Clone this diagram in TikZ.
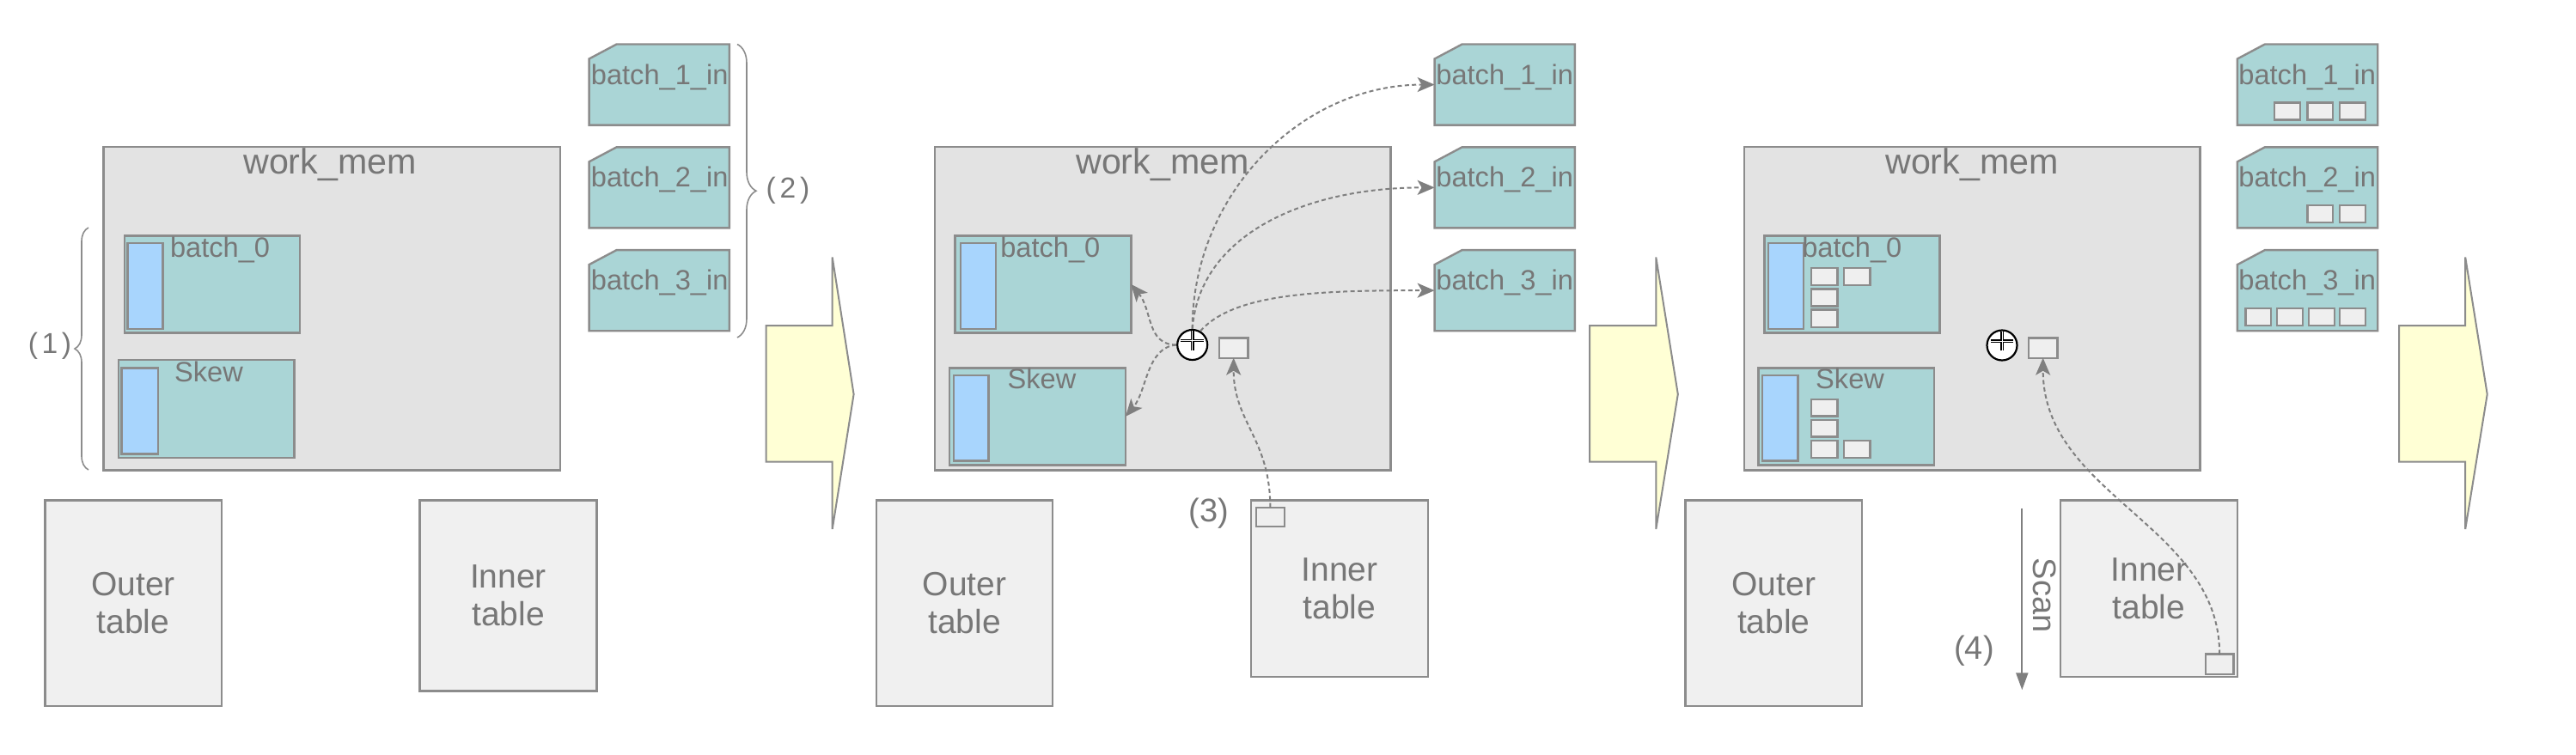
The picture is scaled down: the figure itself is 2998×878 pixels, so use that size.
\documentclass[tikz,border=0pt]{standalone}
\usepackage{fontspec}
\setmainfont{Liberation Sans}
\usetikzlibrary{arrows.meta,fit,decorations.pathreplacing}
\definecolor{memfill}{HTML}{E3E3E3}
\definecolor{tabfill}{HTML}{F0F0F0}
\definecolor{batfill}{HTML}{AAD5D6}
\definecolor{bluefill}{HTML}{A8D5FD}
\definecolor{sqfill}{HTML}{EFEFEF}
\definecolor{edgegray}{HTML}{8C8C8C}
\definecolor{txtgray}{HTML}{777777}
\definecolor{arrowgray}{HTML}{7F7F7F}
\definecolor{yel}{HTML}{FFFFD5}
\newcommand\rbox[6]{\coordinate (#1-a) at (#2,#3);\coordinate (#1-b) at (#4,#5);\node[fit=(#1-a)(#1-b),inner sep=0pt,outer sep=0pt,#6] (#1) {};}
\newcommand\inbox[4]{% name, x1, y1, unused ; box 163 wide, 94 tall
  \rbox{#1}{#2}{#3}{#2+163.3}{#3+94.1}{}
  \draw[inshape] (#1.south west) -- (#1.south east) -- (#1.north east) -- ([xshift=16pt]#1.north west) -- ([yshift=-8.5pt]#1.north west) -- cycle;}
\begin{document}
\begin{tikzpicture}[x=0.5pt,y=-0.5pt,
  mem/.style={draw=edgegray, fill=memfill, line width=1.2pt},
  tab/.style={draw=edgegray, fill=tabfill, line width=1.2pt},
  bat/.style={draw=edgegray, fill=batfill, line width=1.2pt},
  bar/.style={draw=edgegray, fill=bluefill, line width=1.2pt},
  sq/.style={draw=edgegray, fill=sqfill, line width=1.2pt},
  inshape/.style={draw=edgegray, fill=batfill, line width=1.2pt},
  lbl/.style={text=txtgray, inner sep=0pt, font=\fontsize{16.3}{19}\selectfont},
  title/.style={text=txtgray, inner sep=0pt, font=\fontsize{20.6}{24}\selectfont},
  tbl/.style={text=txtgray, inner sep=0pt, align=center, font=\fontsize{19.5}{22}\selectfont},
  num/.style={text=txtgray, inner sep=0pt, font=\fontsize{19}{22}\selectfont},
  paren/.style={text=txtgray, inner sep=0pt, font=\fontsize{16.8}{20}\selectfont},
  flow/.style={draw=arrowgray, line width=1pt, dash pattern=on 2.5pt off 1.7pt, -{Stealth[length=10pt,width=8.5pt,inset=2.5pt]}},
  scanline/.style={draw=arrowgray, line width=1pt, -{Triangle[length=10pt,width=7pt]}},
  bigarrow/.style={draw=edgegray, fill=yel, line width=1pt},
  brc/.style={draw=edgegray, line width=0.8pt, decorate},
  opnode/.style={circle, draw=black, fill=white, line width=1.1pt, minimum size=17.5pt, inner sep=0pt},
  plusline/.style={draw=black, line width=0.7pt, double=white, double distance=0.5pt}
]
\useasboundingbox (0,0) rectangle (2998,878);

% ================= Panel 1 =================
\rbox{mem1}{120.5}{170.8}{651.8}{547.6}{mem}
\node[title, anchor=base] (mem1-t) at (384,202.7) {work\_mem};
\rbox{b01}{144.8}{274.4}{348.9}{387.5}{bat}
\rbox{bar01}{148.6}{282.8}{189.4}{383}{bar}
\node[lbl, anchor=base west] (b01-t) at (197.7,299.5) {batch\_0};
\rbox{sk1}{137.8}{418.8}{342.5}{533}{bat}
\rbox{barsk1}{141.6}{428.3}{183.7}{528.5}{bar}
\node[lbl, anchor=base west] (sk1-t) at (202.8,444) {Skew};

\inbox{b1in1}{685.6}{51.5}{}
\node[lbl, anchor=base west] (b1in1-t) at (687.5,98) {batch\_1\_in};
\inbox{b2in1}{685.6}{171.3}{}
\node[lbl, anchor=base west] (b2in1-t) at (687.5,217.8) {batch\_2\_in};
\inbox{b3in1}{685.6}{291.1}{}
\node[lbl, anchor=base west] (b3in1-t) at (687.5,337.6) {batch\_3\_in};

\draw[brc, decoration={brace, amplitude=8pt}] (103,547) -- (103,265);
\node[paren] (one) at (58,403) {(\kern2.3pt1\kern2.3pt)};
\draw[brc, decoration={brace, amplitude=11pt}] (858,51.5) -- (858,393);
\node[paren] (two) at (917,221.7) {(\kern2.4pt2\kern2.4pt)};

\draw[bigarrow] (891.6,379) -- (968.7,379) -- (968.7,299.5) -- (993.6,459) -- (968.7,616) -- (968.7,537.5) -- (891.6,537.5) -- cycle;

\rbox{outer1}{52.3}{582.3}{257.7}{822}{tab}
\node[tbl] (outer1-t) at (outer1.center) {Outer\\table};
\rbox{inner1}{488.5}{582.3}{694.5}{804.6}{tab}
\node[tbl] (inner1-t) at (inner1.center) {Inner\\table};

% ================= Panel 2 =================
\rbox{mem2}{1088}{170.8}{1618.6}{547.6}{mem}
\node[title, anchor=base] (mem2-t) at (1353,202.7) {work\_mem};
\rbox{b02}{1111.6}{274.4}{1316.3}{387.5}{bat}
\rbox{bar02}{1118}{282.8}{1158.8}{383}{bar}
\node[lbl, anchor=base west] (b02-t) at (1163.9,299.5) {batch\_0};
\rbox{sk2}{1105.2}{428.3}{1310}{541.4}{bat}
\rbox{barsk2}{1109.7}{436.7}{1150.5}{536.4}{bar}
\node[lbl, anchor=base west] (sk2-t) at (1172.2,452) {Skew};

\node[opnode] (op2) at (1387.7,401.5) {};
\draw[plusline] ([yshift=2.5pt]op2.center) +(-6.7pt,0pt) -- +(6.7pt,0pt) +(0pt,-5.7pt) -- +(0pt,5.7pt);
\rbox{sq2}{1419}{393.5}{1452.3}{416.7}{sq}

\inbox{b1in2}{1669.6}{51.5}{}
\node[lbl, anchor=base west] (b1in2-t) at (1671,98) {batch\_1\_in};
\inbox{b2in2}{1669.6}{171.3}{}
\node[lbl, anchor=base west] (b2in2-t) at (1671,217.8) {batch\_2\_in};
\inbox{b3in2}{1669.6}{291.1}{}
\node[lbl, anchor=base west] (b3in2-t) at (1671,337.6) {batch\_3\_in};

\draw[bigarrow] (1850,379) -- (1927.3,379) -- (1927.3,299.5) -- (1952.8,459) -- (1927.3,616) -- (1927.3,537.5) -- (1850,537.5) -- cycle;

\rbox{outer2}{1019.8}{582.3}{1225.1}{822}{tab}
\node[tbl] (outer2-t) at (outer2.center) {Outer\\table};
\rbox{inner2}{1456}{582.3}{1662}{787.8}{tab}
\node[tbl] (inner2-t) at (inner2.center) {Inner\\table};
\rbox{in2}{1461.7}{590.7}{1494.9}{613.1}{sq}
\node[num] (three) at (1406.6,598) {(3)};

\draw[flow] (op2.north) .. controls +(0,-156) and +(-156,0) .. (b1in2.west);
\draw[flow] (op2.north) .. controls +(8,-110) and +(-150,0) .. (b2in2.west);
\draw[flow] (op2.60) .. controls +(40,-45) and +(-130,0) .. (b3in2.west);
\draw[flow] (op2.west) .. controls +(-35,0) and +(25,30) .. (b02.east);
\draw[flow] (op2.west) .. controls +(-35,3) and +(25,-30) .. (sk2.east);
\draw[flow] (in2.north) .. controls +(0,-80) and +(0,75) .. (sq2.south);

% ================= Panel 3 =================
\rbox{mem3}{2029.9}{170.8}{2560.5}{547.6}{mem}
\node[title, anchor=base] (mem3-t) at (2295,202.7) {work\_mem};
\rbox{b03}{2053.5}{274.4}{2257.6}{387.5}{bat}
\rbox{bar03}{2058}{282.8}{2098.8}{383}{bar}
\node[lbl, anchor=base west] (b03-t) at (2096.9,299.5) {batch\_0};
\rbox{t01}{2108}{311.8}{2138.5}{332}{sq}
\rbox{t02}{2146}{311.8}{2176.6}{332}{sq}
\rbox{t03}{2108}{336.3}{2138.5}{356.6}{sq}
\rbox{t04}{2108}{360.5}{2138.5}{381}{sq}
\rbox{sk3}{2046.5}{428.3}{2251.2}{541.4}{bat}
\rbox{barsk3}{2050.9}{436.7}{2092.4}{536.4}{bar}
\node[lbl, anchor=base west] (sk3-t) at (2112.8,452) {Skew};
\rbox{s01}{2108}{464.7}{2138.5}{484.5}{sq}
\rbox{s02}{2108}{488.8}{2138.5}{508.6}{sq}
\rbox{s03}{2108}{512.9}{2138.5}{532.7}{sq}
\rbox{s04}{2146}{512.9}{2176.6}{532.7}{sq}

\node[opnode] (op3) at (2330,402) {};
\draw[plusline] ([yshift=2.5pt]op3.center) +(-6.7pt,0pt) -- +(6.7pt,0pt) +(0pt,-5.7pt) -- +(0pt,5.7pt);
\rbox{sq3}{2361}{393.4}{2394.3}{416.7}{sq}

\inbox{b1in3}{2603.9}{51.5}{}
\node[lbl, anchor=base west] (b1in3-t) at (2605,98) {batch\_1\_in};
\rbox{u11}{2647.2}{119.3}{2677.2}{139.4}{sq}
\rbox{u12}{2685.5}{119.3}{2714.9}{139.4}{sq}
\rbox{u13}{2723.1}{119.3}{2753.1}{139.4}{sq}
\inbox{b2in3}{2603.9}{171.3}{}
\node[lbl, anchor=base west] (b2in3-t) at (2605,217.8) {batch\_2\_in};
\rbox{u21}{2685.5}{239}{2714.9}{259.2}{sq}
\rbox{u22}{2723.1}{239}{2753.1}{259.2}{sq}
\inbox{b3in3}{2603.9}{291.1}{}
\node[lbl, anchor=base west] (b3in3-t) at (2605,337.6) {batch\_3\_in};
\rbox{u31}{2613.4}{358.9}{2642.8}{379}{sq}
\rbox{u32}{2649.8}{358.9}{2679.8}{379}{sq}
\rbox{u33}{2686.8}{358.9}{2716.7}{379}{sq}
\rbox{u34}{2723.1}{358.9}{2753.1}{379}{sq}

\draw[bigarrow] (2792,379) -- (2869.2,379) -- (2869.2,299.5) -- (2894.7,459) -- (2869.2,616) -- (2869.2,537.5) -- (2792,537.5) -- cycle;

\rbox{outer3}{1961.6}{582.3}{2167}{822}{tab}
\node[tbl] (outer3-t) at (outer3.center) {Outer\\table};
\rbox{inner3}{2397.9}{582.3}{2603.9}{787.8}{tab}
\node[tbl] (inner3-t) at (inner3.center) {Inner\\table};
\rbox{in3}{2566.9}{761.5}{2599.4}{785}{sq}

\coordinate (scanA) at (2353.3,591.7);
\coordinate (scanB) at (2353.3,803.3);
\draw[scanline] (scanA) -- (scanB);
\node[num, rotate=-90] (scan) at (2380,693) {Scan};
\node[num] (four) at (2297.5,758) {(4)};

\draw[flow] (in3.north) .. controls +(0,-150) and +(0,160) .. (sq3.south);
\end{tikzpicture}
\end{document}
